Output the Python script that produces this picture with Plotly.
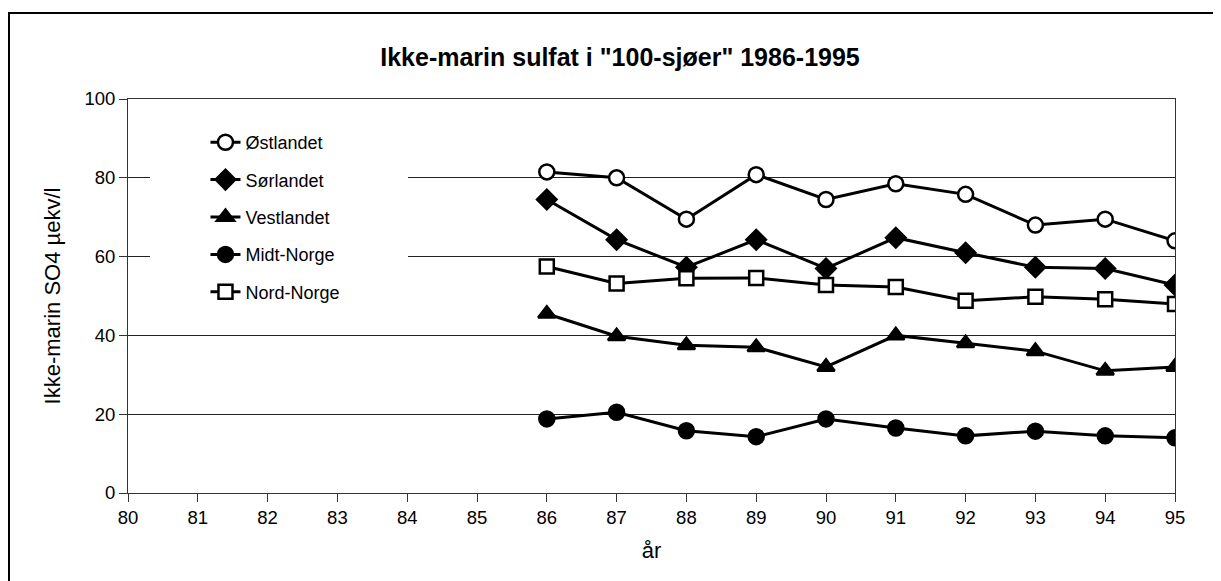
import plotly.graph_objects as go

years = [86, 87, 88, 89, 90, 91, 92, 93, 94, 95]

ostlandet = [81.5, 80.0, 69.5, 80.8, 74.5, 78.5, 75.8, 68.0, 69.5, 64.0]
sorlandet = [74.5, 64.3, 57.3, 64.3, 57.0, 64.8, 61.0, 57.3, 57.0, 52.8]
vestlandet = [45.5, 39.8, 37.5, 37.0, 32.0, 40.0, 38.0, 36.0, 31.0, 32.0]
midt_norge = [18.8, 20.5, 15.8, 14.3, 18.8, 16.5, 14.5, 15.7, 14.5, 14.0]
nord_norge = [57.5, 53.2, 54.5, 54.6, 52.8, 52.3, 48.8, 49.8, 49.2, 48.0]

x_ticks = list(range(80, 96))
y_ticks = [0, 20, 40, 60, 80, 100]

series = [
    ("Østlandet", ostlandet, "circle", "white", 15),
    ("Sørlandet", sorlandet, "diamond", "black", 15),
    ("Vestlandet", vestlandet, "triangle-up", "black", 15),
    ("Midt-Norge", midt_norge, "circle", "black", 15),
    ("Nord-Norge", nord_norge, "square", "white", 14),
]

FONT = "Liberation Sans, Arial, sans-serif"

# the page body has an 8px margin, so the figure is drawn 8px smaller
W, H = 1213, 573
L, T = 120, 91
PW, PH = 1047, 394

fig = go.Figure()
for name, vals, symbol, fill, size in series:
    fig.add_trace(
        go.Scatter(
            x=years,
            y=vals,
            name=name,
            legendgroup=name,
            mode="lines+markers",
            line=dict(color="black", width=3),
            marker=dict(
                symbol=symbol,
                size=size,
                color=fill,
                line=dict(color="black", width=2.5),
            ),
        )
    )

fig.update_layout(
    width=W,
    height=H,
    margin=dict(l=L, r=W - L - PW, t=T, b=H - T - PH),
    paper_bgcolor="white",
    plot_bgcolor="white",
    font=dict(family=FONT, color="black", size=18),
    title=dict(
        text='<b>Ikke-marin sulfat i "100-sjøer" 1986-1995</b>',
        x=612 / W,
        xanchor="center",
        y=1 - 49 / H,
        yanchor="middle",
        font=dict(family=FONT, size=25, color="black"),
    ),
    legend=dict(
        x=0.074,
        y=0.9365,
        xanchor="left",
        yanchor="top",
        bgcolor="rgba(0,0,0,0)",
        borderwidth=0,
        font=dict(family=FONT, size=18, color="black"),
        traceorder="grouped",
        tracegroupgap=11,
    ),
    showlegend=True,
)

fig.update_xaxes(
    range=[80, 95],
    tickvals=x_ticks,
    ticktext=[str(t) for t in x_ticks],
    showgrid=False,
    zeroline=False,
    showline=True,
    linecolor="#333",
    linewidth=1,
    mirror=True,
    ticks="outside",
    ticklen=8,
    tickcolor="#333",
    title=dict(text="år", font=dict(family=FONT, size=22), standoff=15),
    tickfont=dict(family=FONT, size=18.5),
)
fig.update_yaxes(
    range=[0, 100],
    tickvals=y_ticks,
    showgrid=True,
    gridcolor="#222",
    gridwidth=1,
    zeroline=False,
    showline=True,
    linecolor="#333",
    linewidth=1,
    mirror=True,
    ticks="outside",
    ticklen=8,
    tickcolor="#333",
    title=dict(text="Ikke-marin SO4 µekv/l", font=dict(family=FONT, size=22), standoff=17),
    tickfont=dict(family=FONT, size=18.5),
)

# white block behind the legend, hiding the gridlines there
fig.add_shape(
    type="rect",
    xref="paper",
    yref="paper",
    x0=(150 - 128) / PW,
    x1=(408 - 128) / PW,
    y0=(493 - 314) / PH,
    y1=(493 - 118) / PH,
    fillcolor="white",
    line=dict(width=0),
    layer="above",
)

# outer frame around the whole chart
fig.add_shape(
    type="rect",
    xref="paper",
    yref="paper",
    x0=(1 - L) / PW,
    x1=(1207 - L) / PW,
    y0=(T + PH - 600) / PH,
    y1=(T + PH - 5) / PH,
    line=dict(color="black", width=2),
    layer="below",
)

fig.write_html("out.html")
